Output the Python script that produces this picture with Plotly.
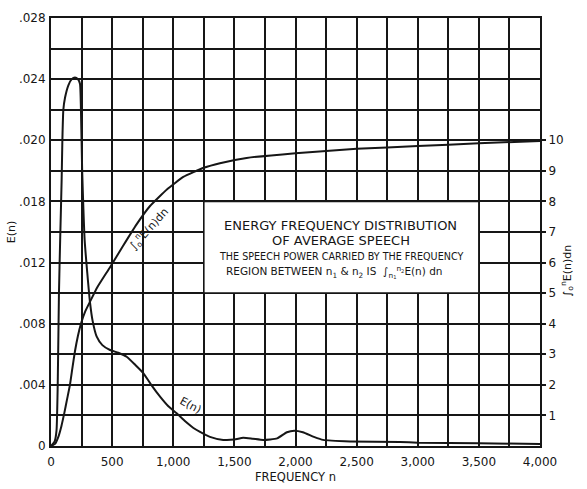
import plotly.graph_objects as go

# Energy-frequency distribution of average speech, E(n), per cycle
freq_e = [0, 30, 45, 55, 65, 75, 87, 93, 101, 115, 142, 170, 196, 220, 237, 245,
          255, 265, 275, 297, 319, 340, 374, 420, 483, 550, 619, 690, 755, 820,
          892, 960, 1028, 1100, 1165, 1219, 1300, 1409, 1500, 1572, 1650, 1736,
          1850, 1930, 1990, 2060, 2150, 2225, 2446, 2855, 3000, 3500, 4000]
energy = [0, 0.0003, 0.001, 0.004, 0.010, 0.0135, 0.0174, 0.020, 0.022, 0.0228,
          0.0236, 0.0240, 0.0241, 0.0240, 0.0237, 0.022, 0.018, 0.0155, 0.0135,
          0.0113, 0.0094, 0.0082, 0.00715, 0.0066, 0.00628, 0.0061, 0.00584,
          0.0053, 0.00477, 0.0040, 0.00323, 0.0026, 0.00214, 0.0016, 0.00118,
          0.00092, 0.0006, 0.0004, 0.00042, 0.00054, 0.00048, 0.0004, 0.0005,
          0.0009, 0.0010, 0.0009, 0.0006, 0.0004, 0.0003, 0.00026, 0.00022,
          0.00018, 0.00013]

# Cumulative speech power from 0 to n (right-hand scale)
freq_cum = [0, 33, 60, 85, 110, 130, 155, 175, 196, 220, 245, 280, 319, 380, 483,
            590, 700, 810, 950, 1082, 1250, 1382, 1600, 2000, 2500, 3000, 3500, 4000]
cumulative = [0, 0.07, 0.3, 0.65, 1.1, 1.5, 2.0, 2.55, 3.1, 3.6, 4.0, 4.4, 4.72,
              5.2, 5.85, 6.55, 7.25, 7.85, 8.4, 8.8, 9.1, 9.25, 9.42, 9.58, 9.72,
              9.81, 9.9, 9.98]

x_ticks = [0, 500, 1000, 1500, 2000, 2500, 3000, 3500, 4000]
x_tick_labels = ["0", "500", "1,000", "1,500", "2,000", "2,500", "3,000", "3,500", "4,000"]
y_ticks = [0, 0.004, 0.008, 0.012, 0.016, 0.020, 0.024, 0.028]
y_tick_labels = ["0", ".004", ".008", ".012", ".018", ".020", ".024", ".028"]
y2_ticks = [1, 2, 3, 4, 5, 6, 7, 8, 9, 10]
y2_tick_labels = ["1", "2", "3", "4", "5", "6", "7", "8", "9", "10"]

INK = "#161616"
FONT = "DejaVu Sans"

fig = go.Figure()
fig.add_trace(go.Scatter(x=freq_e, y=energy, mode="lines",
                         line=dict(color=INK, width=2, shape="spline", smoothing=0.5),
                         hoverinfo="skip", showlegend=False))
fig.add_trace(go.Scatter(x=freq_cum, y=cumulative, mode="lines", yaxis="y2",
                         line=dict(color=INK, width=2, shape="spline", smoothing=0.4),
                         hoverinfo="skip", showlegend=False))

grid = dict(showgrid=True, gridcolor=INK, gridwidth=1.6)

fig.update_layout(
    width=587, height=489,
    margin=dict(l=51, r=47, t=18, b=43),
    paper_bgcolor="white", plot_bgcolor="white",
    font=dict(family=FONT, color=INK, size=12),
    xaxis=dict(range=[0, 4000], tickvals=x_ticks, ticktext=x_tick_labels,
               showline=True, linecolor=INK, linewidth=2, mirror=True,
               zeroline=False, ticks="", ticklabelstandoff=4, automargin=False,
               minor=dict(dtick=250, **grid), **grid,
               title=dict(text="FREQUENCY n", font=dict(size=11.5), standoff=5)),
    yaxis=dict(range=[0, 0.028], tickvals=y_ticks, ticktext=y_tick_labels,
               showline=True, linecolor=INK, linewidth=2, mirror=True,
               zeroline=False, ticks="", ticklabelstandoff=1, automargin=False,
               minor=dict(dtick=0.002, **grid), **grid,
               title=dict(text="E(n)", font=dict(size=11), standoff=1)),
    yaxis2=dict(range=[0, 14], overlaying="y", side="right", automargin=False,
                tickvals=y2_ticks, ticktext=y2_tick_labels,
                showgrid=False, zeroline=False, showline=False,
                ticks="outside", ticklen=5, tickwidth=1.6, tickcolor=INK),
)

# Caption panel on the grid
fig.add_shape(type="rect", xref="x", yref="y", x0=1250, x1=3500, y0=0.010, y1=0.016,
              fillcolor="white", line=dict(color=INK, width=1.6), layer="above")

cx = 2370
fig.add_annotation(x=cx, y=0.01445, xref="x", yref="y", showarrow=False,
                   text="ENERGY FREQUENCY DISTRIBUTION", font=dict(size=13))
fig.add_annotation(x=cx, y=0.01345, xref="x", yref="y", showarrow=False,
                   text="OF AVERAGE SPEECH", font=dict(size=13))
fig.add_annotation(x=cx, y=0.01238, xref="x", yref="y", showarrow=False,
                   text="THE SPEECH POWER CARRIED BY THE FREQUENCY", font=dict(size=9.6))
fig.add_annotation(x=cx - 50, y=0.01140, xref="x", yref="y", showarrow=False,
                   text="REGION BETWEEN n<sub>1</sub> & n<sub>2</sub> IS  "
                        "∫<sub>n<sub>1</sub></sub><sup>n<sub>2</sub></sup>E(n) dn",
                   font=dict(size=10.5))

# Curve labels
fig.add_annotation(x=800, y=0.01420, xref="x", yref="y", showarrow=False,
                   text="∫<sub>o</sub><sup>n</sup>E(n)dn", textangle=-48,
                   font=dict(size=11))
fig.add_annotation(x=1140, y=0.00262, xref="x", yref="y", showarrow=False,
                   text="E(n)", textangle=28, font=dict(size=11))

# Right-hand scale title
fig.add_annotation(x=1.0, y=0.41, xref="paper", yref="paper", xanchor="left",
                   xshift=17, showarrow=False, textangle=-90,
                   text="∫<sub>o</sub><sup>n</sup>E(n)dn", font=dict(size=11))

fig.write_html("out.html")
